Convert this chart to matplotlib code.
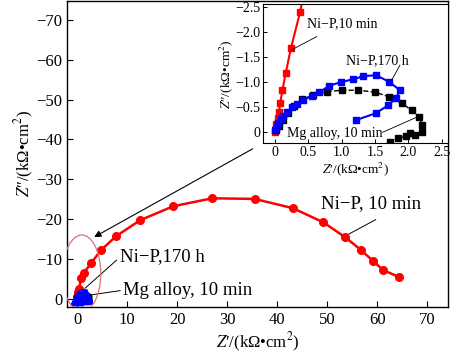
import numpy as np
import matplotlib
matplotlib.use('Agg')
import matplotlib.pyplot as plt
from matplotlib.patches import Ellipse

plt.rcParams['font.family'] = ['Liberation Serif', 'DejaVu Serif']
plt.rcParams['mathtext.fontset'] = 'stix'

# Ni-P, 10 min  (Z' and Z'' in kOhm cm2)
red_x = [0, 0.01, 0.02, 0.04, 0.06, 0.075, 0.11, 0.16, 0.24, 0.375, 0.8, 1.4,
         2.8, 4.8, 7.8, 12.6, 19.2, 27.0, 35.5, 43.2, 49.2, 53.6, 56.8, 59.2,
         61.2, 64.4]
red_y = [0, -0.08, -0.15, -0.27, -0.4, -0.57, -0.83, -1.18, -1.68, -2.39,
         -5.2, -6.6, -9.0, -12.25, -15.75, -19.75, -23.25, -25.25, -25.1,
         -22.75, -19.25, -15.5, -12.25, -9.5, -7.25, -5.5]

# Ni-P, 170 h
blue_x = [0, 0.025, 0.05, 0.085, 0.125, 0.185, 0.25, 0.325, 0.425, 0.55, 0.665,
          0.815, 0.985, 1.175, 1.325, 1.515, 1.71, 1.875, 1.815, 1.7, 1.51, 1.21]
blue_y = [-0.03, -0.11, -0.18, -0.25, -0.32, -0.4, -0.49, -0.55, -0.63, -0.72,
          -0.79, -0.92, -0.99, -1.05, -1.11, -1.13, -1.0, -0.83, -0.67, -0.53,
          -0.37, -0.23]

# Mg alloy, 10 min
blk_x = [0.02, 0.06, 0.12, 0.2, 0.29, 0.4, 0.575, 0.775, 1.0, 1.25, 1.5, 1.71,
         1.9, 2.05, 2.16, 2.21, 2.2, 2.1, 2.02, 1.97, 1.85, 1.73]
blk_y = [-0.03, -0.12, -0.24, -0.38, -0.52, -0.65, -0.73, -0.8, -0.83, -0.83,
         -0.79, -0.7, -0.57, -0.43, -0.3, -0.13, 0.0, 0.07, 0.03, 0.09, 0.13, 0.2]

main_xticks = [0, 10, 20, 30, 40, 50, 60, 70]
main_yticks = [0, -10, -20, -30, -40, -50, -60, -70]
ins_xticks = [0, 0.5, 1.0, 1.5, 2.0, 2.5]
ins_yticks = [0, -0.5, -1.0, -1.5, -2.0, -2.5]

xlab = "$Z$\u2032/(k\u03a9\u2022cm$^2$)"
ylab = "$Z$\u2033/(k\u03a9\u2022cm$^2$)"

fig = plt.figure(figsize=(4.5, 3.58), dpi=100)
ax = fig.add_axes([0.149, 0.1425, 0.847, 0.855])

ax.plot(red_x, red_y, color='red', lw=1.8, marker='o', ms=5.5, zorder=3)
ax.plot(blk_x, blk_y, color='black', lw=1, ls='--', marker='s', ms=5, zorder=4)
ax.plot(blue_x, blue_y, color='blue', lw=1.5, marker='^', ms=8, zorder=5)

ax.set_xlim(-2, 74.2)
ax.set_ylim(2, -74.75)
ax.set_xticks(main_xticks)
ax.set_yticks(main_yticks)
ax.set_yticklabels(['0'] + ['\u2212%d' % abs(v) for v in main_yticks[1:]])
ax.tick_params(direction='in', labelsize=12, length=4, width=0.8)
ax.set_xlabel(xlab, fontsize=12, labelpad=2)
ax.set_ylabel(ylab, fontsize=12, labelpad=0)
for s in ax.spines.values():
    s.set_linewidth(1.0)

ax.add_patch(Ellipse((0.94, -6.4), 7.6, 19.3, fill=False, ec='#e07070', lw=0.9, zorder=6))

ax.annotate('', xy=(2.94, -15.2), xytext=(35.6, -38),
            arrowprops=dict(arrowstyle='-|>', color='black', lw=0.8,
                            mutation_scale=10))

ax.text(48.7, -24, 'Ni\u2212P, 10 min', fontsize=13.5, va='center')
ax.plot([59.7, 54.3], [-19.9, -16.25], color='black', lw=0.7)
ax.text(8.6, -10.75, 'Ni\u2212P,170 h', fontsize=13.5, va='center')
ax.plot([7.9, 1.6], [-9.75, -2.7], color='black', lw=0.7)
ax.text(9.1, -2.25, 'Mg alloy, 10 min', fontsize=13.5, va='center')
ax.plot([8.6, 2.6], [-2.1, -1.0], color='black', lw=0.7)

# inset
ins = fig.add_axes([0.584, 0.5997, 0.412, 0.389])
ins.plot(red_x, red_y, color='red', lw=1.5, marker='s', ms=4.5)
ins.plot(blk_x, blk_y, color='black', lw=1, ls='--', marker='s', ms=4.5)
ins.plot(blue_x, blue_y, color='blue', lw=1.5, marker='s', ms=4.5)
ins.set_xlim(-0.185, 2.6)
ins.set_ylim(0.23, -2.55)
ins.set_xticks(ins_xticks)
ins.set_yticks(ins_yticks)
ins.set_xticklabels(['0'] + ['%.1f' % v for v in ins_xticks[1:]])
ins.set_yticklabels(['0'] + ['\u2212%.1f' % abs(v) for v in ins_yticks[1:]])
ins.tick_params(direction='in', labelsize=10, length=3, width=0.7, pad=2)
ins.set_xlabel(xlab, fontsize=9.5, labelpad=1)
ins.set_ylabel(ylab, fontsize=9.5, labelpad=0)

ins.text(0.48, -2.15, 'Ni\u2212P,10 min', fontsize=10, va='center')
ins.plot([0.625, 0.24], [-1.9, -1.63], color='black', lw=0.6)
ins.text(1.065, -1.41, 'Ni\u2212P,170 h', fontsize=10, va='center')
ins.plot([1.875, 1.75], [-1.33, -1.03], color='black', lw=0.6)
ins.text(0.175, 0.03, 'Mg alloy, 10 min', fontsize=10, va='center')
ins.plot([1.615, 2.125], [0.01, -0.29], color='black', lw=0.6)

fig.savefig('out.png', dpi=100)
